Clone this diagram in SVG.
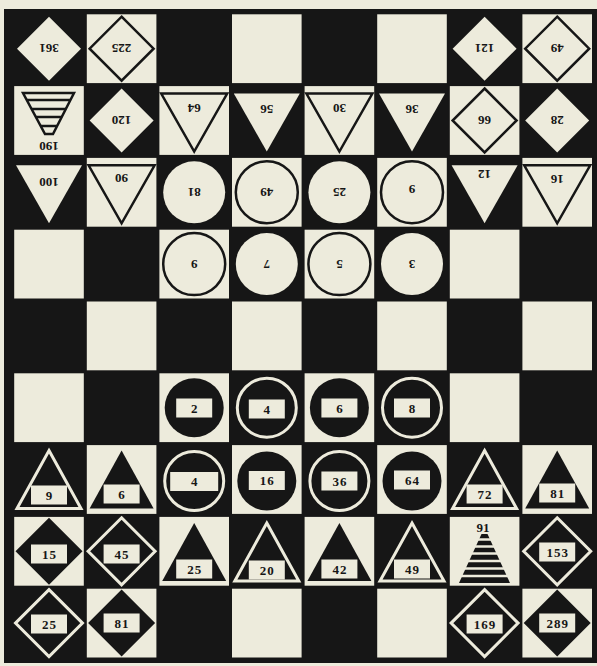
<svg xmlns="http://www.w3.org/2000/svg" xmlns:xlink="http://www.w3.org/1999/xlink" width="597" height="666" viewBox="0 0 597 666">
<style>
.bg{fill:#edebdc}
.board{fill:#161616}
.cell{fill:#edebdc}
.wc{fill:#edebdc;stroke:#161616;stroke-width:2.5}
.wb{fill:#edebdc}
.bc{fill:#161616}
.bb{fill:#161616;stroke:#edebdc;stroke-width:3}
.lbl{fill:#edebdc}
.t{font-family:"Liberation Serif","DejaVu Serif",serif;font-weight:bold;font-size:13px;fill:#161616;text-anchor:middle;dominant-baseline:central}
.s{letter-spacing:1px}
.pl{stroke:#161616;stroke-width:2.5}
.ps{stroke:#edebdc;stroke-width:2.5}
</style>
<defs>
<polygon id="dia" points="0,-32 32,0 0,32 -32,0"/>
<polygon id="diab" points="0,-33.5 33.5,0 0,33.5 -33.5,0"/>
<polygon id="tdn" points="-33,-27 33,-27 0,31"/>
<polygon id="tup" points="0,-29 32,29 -32,29"/>
<circle id="cir" r="31"/>
<circle id="cirb" r="29.5"/>
<rect id="lbl" x="-18" y="-9.5" width="36" height="19"/>
</defs>
<rect class="bg" x="0" y="0" width="597" height="666"/>
<g id="board">
<rect class="board" x="4" y="9" width="593" height="654"/>
<g class="cell">
<rect x="86.8" y="14.3" width="69.6" height="68.8"/><rect x="232" y="14.3" width="69.6" height="68.8"/><rect x="377.2" y="14.3" width="69.6" height="68.8"/><rect x="522.4" y="14.3" width="69.6" height="68.8"/>
<rect x="14.2" y="86.1" width="69.6" height="68.8"/><rect x="159.4" y="86.1" width="69.6" height="68.8"/><rect x="304.6" y="86.1" width="69.6" height="68.8"/><rect x="449.8" y="86.1" width="69.6" height="68.8"/>
<rect x="86.8" y="157.9" width="69.6" height="68.8"/><rect x="232" y="157.9" width="69.6" height="68.8"/><rect x="377.2" y="157.9" width="69.6" height="68.8"/><rect x="522.4" y="157.9" width="69.6" height="68.8"/>
<rect x="14.2" y="229.7" width="69.6" height="68.8"/><rect x="159.4" y="229.7" width="69.6" height="68.8"/><rect x="304.6" y="229.7" width="69.6" height="68.8"/><rect x="449.8" y="229.7" width="69.6" height="68.8"/>
<rect x="86.8" y="301.5" width="69.6" height="68.8"/><rect x="232" y="301.5" width="69.6" height="68.8"/><rect x="377.2" y="301.5" width="69.6" height="68.8"/><rect x="522.4" y="301.5" width="69.6" height="68.8"/>
<rect x="14.2" y="373.3" width="69.6" height="68.8"/><rect x="159.4" y="373.3" width="69.6" height="68.8"/><rect x="304.6" y="373.3" width="69.6" height="68.8"/><rect x="449.8" y="373.3" width="69.6" height="68.8"/>
<rect x="86.8" y="445.1" width="69.6" height="68.8"/><rect x="232" y="445.1" width="69.6" height="68.8"/><rect x="377.2" y="445.1" width="69.6" height="68.8"/><rect x="522.4" y="445.1" width="69.6" height="68.8"/>
<rect x="14.2" y="516.9" width="69.6" height="68.8"/><rect x="159.4" y="516.9" width="69.6" height="68.8"/><rect x="304.6" y="516.9" width="69.6" height="68.8"/><rect x="449.8" y="516.9" width="69.6" height="68.8"/>
<rect x="86.8" y="588.7" width="69.6" height="68.8"/><rect x="232" y="588.7" width="69.6" height="68.8"/><rect x="377.2" y="588.7" width="69.6" height="68.8"/><rect x="522.4" y="588.7" width="69.6" height="68.8"/>
</g>
</g>
<g id="connectors"/>
<g id="p361"><use href="#dia" x="49" y="48.7" class="wb"/><text class="t" x="49" y="48.7" transform="rotate(180 49 48.7)">361</text></g>
<g id="p225"><use href="#dia" x="121.6" y="48.7" class="wc"/><text class="t" x="121.6" y="48.7" transform="rotate(180 121.6 48.7)">225</text></g>
<g id="p121"><use href="#dia" x="484.6" y="48.7" class="wb"/><text class="t" x="484.6" y="48.7" transform="rotate(180 484.6 48.7)">121</text></g>
<g id="p49a"><use href="#dia" x="557.2" y="48.7" class="wc"/><text class="t" x="557.2" y="48.7" transform="rotate(180 557.2 48.7)">49</text></g>
<g id="p190">
<polygon class="wc" points="23,93 74,93 53,134 45,134"/>
<line class="pl" x1="26.8" y1="100" x2="70.4" y2="100"/>
<line class="pl" x1="31.6" y1="109" x2="65.8" y2="109"/>
<line class="pl" x1="35.9" y1="117" x2="61.7" y2="117"/>
<line class="pl" x1="40.7" y1="126" x2="57.1" y2="126"/>
<text class="t" x="49" y="146" transform="rotate(180 49 146)">190</text>
</g>
<g id="p120"><use href="#dia" x="121.6" y="120.5" class="wb"/><text class="t" x="121.6" y="120.5" transform="rotate(180 121.6 120.5)">120</text></g>
<g id="p64t"><use href="#tdn" x="194.2" y="120.5" class="wc"/><text class="t" x="194.2" y="108" transform="rotate(180 194.2 108)">64</text></g>
<g id="p56"><use href="#tdn" x="266.8" y="120.5" class="wb"/><text class="t" x="266.8" y="109" transform="rotate(180 266.8 109)">56</text></g>
<g id="p30"><use href="#tdn" x="339.4" y="120.5" class="wc"/><text class="t" x="339.4" y="108" transform="rotate(180 339.4 108)">30</text></g>
<g id="p36"><use href="#tdn" x="412" y="120.5" class="wb"/><text class="t" x="412" y="109" transform="rotate(180 412 109)">36</text></g>
<g id="p66"><use href="#dia" x="484.6" y="120.5" class="wc"/><text class="t" x="484.6" y="120.5" transform="rotate(180 484.6 120.5)">66</text></g>
<g id="p28"><use href="#dia" x="557.2" y="120.5" class="wb"/><text class="t" x="557.2" y="120.5" transform="rotate(180 557.2 120.5)">28</text></g>
<g id="p100"><use href="#tdn" x="49" y="192.3" class="wb"/><text class="t" x="49" y="182" transform="rotate(180 49 182)">100</text></g>
<g id="p90"><use href="#tdn" x="121.6" y="192.3" class="wc"/><text class="t" x="121.6" y="178" transform="rotate(180 121.6 178)">90</text></g>
<g id="p81t"><use href="#cir" x="194.2" y="192.3" class="wb"/><text class="t" x="194.2" y="192.3" transform="rotate(180 194.2 192.3)">81</text></g>
<g id="p49t"><use href="#cir" x="266.8" y="192.3" class="wc"/><text class="t" x="266.8" y="192.3" transform="rotate(180 266.8 192.3)">49</text></g>
<g id="p25t"><use href="#cir" x="339.4" y="192.3" class="wb"/><text class="t" x="339.4" y="192.3" transform="rotate(180 339.4 192.3)">25</text></g>
<g id="p9t"><use href="#cir" x="412" y="192.3" class="wc"/><text class="t" x="412" y="189" transform="rotate(180 412 189)">9</text></g>
<g id="p12"><use href="#tdn" x="484.6" y="192.3" class="wb"/><text class="t" x="484.6" y="174" transform="rotate(180 484.6 174)">12</text></g>
<g id="p16t"><use href="#tdn" x="557.2" y="192.3" class="wc"/><text class="t" x="557.2" y="179" transform="rotate(180 557.2 179)">16</text></g>
<g id="p9c"><use href="#cir" x="194.2" y="264.1" class="wc"/><text class="t" x="194.2" y="264.1" transform="rotate(180 194.2 264.1)">9</text></g>
<g id="p7"><use href="#cir" x="266.8" y="264.1" class="wb"/><text class="t" x="266.8" y="264.1" transform="rotate(180 266.8 264.1)">7</text></g>
<g id="p5"><use href="#cir" x="339.4" y="264.1" class="wc"/><text class="t" x="339.4" y="264.1" transform="rotate(180 339.4 264.1)">5</text></g>
<g id="p3"><use href="#cir" x="412" y="264.1" class="wb"/><text class="t" x="412" y="264.1" transform="rotate(180 412 264.1)">3</text></g>
<g id="b2"><use href="#cirb" x="194.2" y="407.7" class="bc"/><use href="#lbl" x="194.2" y="408" class="lbl"/><text class="t" x="194.2" y="408">2</text></g>
<g id="b4a"><use href="#cirb" x="266.8" y="407.7" class="bb"/><use href="#lbl" x="266.8" y="409" class="lbl"/><text class="t" x="266.8" y="409">4</text></g>
<g id="b6a"><use href="#cirb" x="339.4" y="407.7" class="bc"/><use href="#lbl" x="339.4" y="408" class="lbl"/><text class="t" x="339.4" y="408">6</text></g>
<g id="b8"><use href="#cirb" x="412" y="407.7" class="bb"/><use href="#lbl" x="412" y="408" class="lbl"/><text class="t" x="412" y="408">8</text></g>
<g id="b9"><use href="#tup" x="49" y="479.5" class="bb"/><use href="#lbl" x="49" y="495" class="lbl"/><text class="t" x="49" y="495">9</text></g>
<g id="b6b"><use href="#tup" x="121.6" y="479.5" class="bc"/><use href="#lbl" x="121.6" y="494" class="lbl"/><text class="t" x="121.6" y="494">6</text></g>
<g id="b4b"><use href="#cirb" x="194.2" y="481" class="bb"/><rect class="lbl" x="170.2" y="472" width="48" height="19"/><text class="t" x="194.2" y="481.5">4</text></g>
<g id="b16"><use href="#cirb" x="266.8" y="481" class="bc"/><use href="#lbl" x="266.8" y="480.5" class="lbl"/><text class="t s" x="267.3" y="480.5">16</text></g>
<g id="b36"><use href="#cirb" x="339.4" y="481" class="bb"/><use href="#lbl" x="339.4" y="481" class="lbl"/><text class="t s" x="339.9" y="481">36</text></g>
<g id="b64"><use href="#cirb" x="412" y="481" class="bc"/><use href="#lbl" x="412" y="480" class="lbl"/><text class="t s" x="412.5" y="480">64</text></g>
<g id="b72"><use href="#tup" x="484.6" y="479.5" class="bb"/><use href="#lbl" x="484.6" y="494" class="lbl"/><text class="t s" x="485.1" y="494">72</text></g>
<g id="b81a"><use href="#tup" x="557.2" y="479.5" class="bc"/><use href="#lbl" x="557.2" y="493" class="lbl"/><text class="t s" x="557.7" y="493">81</text></g>
<g id="b15"><use href="#diab" x="49" y="551.3" class="bc"/><use href="#lbl" x="49" y="554" class="lbl"/><text class="t s" x="49.5" y="554">15</text></g>
<g id="b45"><use href="#diab" x="121.6" y="551.3" class="bb"/><use href="#lbl" x="121.6" y="554" class="lbl"/><text class="t s" x="122.1" y="554">45</text></g>
<g id="b25a"><use href="#tup" x="194.2" y="552" class="bc"/><use href="#lbl" x="194.2" y="569" class="lbl"/><text class="t s" x="194.7" y="569">25</text></g>
<g id="b20"><use href="#tup" x="266.8" y="552" class="bb"/><use href="#lbl" x="266.8" y="570" class="lbl"/><text class="t s" x="267.3" y="570">20</text></g>
<g id="b42"><use href="#tup" x="339.4" y="552" class="bc"/><use href="#lbl" x="339.4" y="569" class="lbl"/><text class="t s" x="339.9" y="569">42</text></g>
<g id="b49"><use href="#tup" x="412" y="552" class="bb"/><use href="#lbl" x="412" y="569" class="lbl"/><text class="t s" x="412.5" y="569">49</text></g>
<g id="b91">
<polygon class="bc" points="481.5,534 487.5,534 510,583 459,583"/>
<line class="ps" x1="455" y1="539.5" x2="515" y2="539.5"/>
<line class="ps" x1="455" y1="546.5" x2="515" y2="546.5"/>
<line class="ps" x1="455" y1="553.5" x2="515" y2="553.5"/>
<line class="ps" x1="455" y1="561" x2="515" y2="561"/>
<line class="ps" x1="455" y1="568.5" x2="515" y2="568.5"/>
<line class="ps" x1="455" y1="576" x2="515" y2="576"/>
<text class="t" x="483" y="527">91</text>
</g>
<g id="b153"><use href="#diab" x="557.2" y="551.3" class="bb"/><use href="#lbl" x="557.2" y="552" class="lbl"/><text class="t s" x="557.7" y="552">153</text></g>
<g id="b25b"><use href="#diab" x="49" y="623.1" class="bb"/><use href="#lbl" x="49" y="624" class="lbl"/><text class="t s" x="49.5" y="624">25</text></g>
<g id="b81b"><use href="#diab" x="121.6" y="623.1" class="bc"/><use href="#lbl" x="121.6" y="623" class="lbl"/><text class="t s" x="122.1" y="623">81</text></g>
<g id="b169"><use href="#diab" x="484.6" y="623.1" class="bb"/><use href="#lbl" x="484.6" y="624" class="lbl"/><text class="t s" x="485.1" y="624">169</text></g>
<g id="b289"><use href="#diab" x="557.2" y="623.1" class="bc"/><use href="#lbl" x="557.2" y="623" class="lbl"/><text class="t s" x="557.7" y="623">289</text></g>
</svg>
